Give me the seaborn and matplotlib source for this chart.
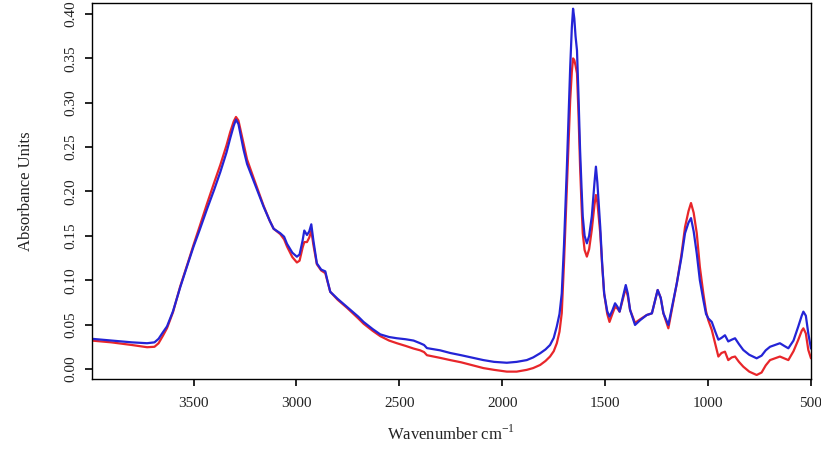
import matplotlib
matplotlib.use("Agg")
import matplotlib.pyplot as plt
import seaborn as sns
import pandas as pd
import numpy as np

wavenumber = [3995, 3900, 3800, 3726, 3690, 3670, 3650, 3629, 3600, 3565, 3530, 3500, 3470, 3435,
              3400, 3370, 3340, 3322, 3305, 3294, 3282, 3270, 3257, 3240, 3225, 3208, 3185, 3160,
              3130, 3111, 3079, 3060, 3046, 3020, 2998, 2985, 2970, 2962, 2949, 2938, 2928, 2918,
              2901, 2880, 2860, 2850, 2836, 2800, 2755, 2700, 2674, 2630, 2593, 2550, 2512, 2470,
              2431, 2399, 2380, 2366, 2302, 2253, 2200, 2150, 2092, 2040, 1978, 1930, 1881, 1850,
              1816, 1790, 1768, 1750, 1735, 1722, 1711, 1700, 1686, 1670, 1662, 1656, 1650, 1644,
              1637, 1630, 1622, 1615, 1609, 1600, 1589, 1578, 1565, 1552, 1545, 1538, 1524, 1515,
              1505, 1490, 1479, 1465, 1452, 1440, 1430, 1415, 1400, 1390, 1379, 1355, 1330, 1298,
              1273, 1260, 1245, 1230, 1217, 1193, 1175, 1152, 1130, 1112, 1095, 1083, 1070, 1055,
              1040, 1023, 1010, 999, 982, 965, 950, 935, 918, 902, 885, 869, 850, 829, 800, 764,
              740, 720, 699, 675, 651, 630, 610, 585, 562, 545, 537, 525, 513, 500]

blue_abs = [0.034, 0.032, 0.030, 0.029, 0.030, 0.034, 0.041, 0.048, 0.065, 0.092, 0.117, 0.138, 0.157, 0.180,
            0.202, 0.222, 0.244, 0.260, 0.274, 0.281, 0.276, 0.262, 0.247, 0.231, 0.222, 0.212, 0.198, 0.183,
            0.167, 0.158, 0.153, 0.149, 0.141, 0.131, 0.1265, 0.129, 0.145, 0.156, 0.151, 0.155, 0.163, 0.145,
            0.119, 0.112, 0.110, 0.100, 0.087, 0.079, 0.070, 0.059, 0.053, 0.045, 0.039, 0.036, 0.0346, 0.0335,
            0.032, 0.029, 0.027, 0.0235, 0.021, 0.018, 0.0155, 0.013, 0.010, 0.008, 0.007, 0.008, 0.010, 0.013,
            0.0177, 0.022, 0.027, 0.035, 0.048, 0.062, 0.085, 0.140, 0.228, 0.340, 0.385, 0.406, 0.395, 0.375,
            0.359, 0.310, 0.247, 0.205, 0.172, 0.150, 0.1416, 0.150, 0.172, 0.210, 0.228, 0.210, 0.160, 0.120,
            0.085, 0.065, 0.059, 0.066, 0.074, 0.070, 0.0646, 0.080, 0.0946, 0.085, 0.0665, 0.0496, 0.055, 0.0608,
            0.0627, 0.075, 0.089, 0.080, 0.0627, 0.0496, 0.070, 0.0965, 0.125, 0.153, 0.165, 0.170, 0.155, 0.130,
            0.100, 0.0777, 0.062, 0.057, 0.053, 0.042, 0.033, 0.035, 0.038, 0.031, 0.033, 0.0346, 0.028, 0.0214, 0.016, 0.012,
            0.015, 0.021, 0.025, 0.027, 0.029, 0.026, 0.0233, 0.032, 0.0477, 0.060, 0.0646, 0.060, 0.040, 0.023]

red_abs = [0.032, 0.030, 0.027, 0.0245, 0.025, 0.029, 0.037, 0.046, 0.064, 0.093, 0.118, 0.140, 0.161, 0.186,
           0.210, 0.230, 0.252, 0.267, 0.279, 0.284, 0.280, 0.268, 0.254, 0.236, 0.226, 0.215, 0.200, 0.184,
           0.167, 0.158, 0.152, 0.146, 0.138, 0.126, 0.120, 0.122, 0.137, 0.143, 0.143, 0.148, 0.156, 0.140,
           0.118, 0.111, 0.108, 0.099, 0.087, 0.078, 0.069, 0.057, 0.051, 0.043, 0.037, 0.032, 0.029, 0.026,
           0.023, 0.021, 0.019, 0.0155, 0.0125, 0.010, 0.0075, 0.0045, 0.001, -0.001, -0.003, -0.003, -0.001, 0.001,
           0.0045, 0.009, 0.014, 0.020, 0.029, 0.042, 0.063, 0.120, 0.205, 0.303, 0.335, 0.350, 0.348, 0.342,
           0.333, 0.290, 0.228, 0.185, 0.153, 0.134, 0.1266, 0.135, 0.157, 0.185, 0.196, 0.188, 0.153, 0.118,
           0.085, 0.062, 0.053, 0.062, 0.070, 0.068, 0.0646, 0.078, 0.091, 0.082, 0.0665, 0.052, 0.056, 0.0608,
           0.0627, 0.075, 0.089, 0.080, 0.0627, 0.0458, 0.068, 0.0965, 0.128, 0.160, 0.178, 0.187, 0.176, 0.153,
           0.115, 0.085, 0.065, 0.055, 0.044, 0.028, 0.014, 0.018, 0.0195, 0.010, 0.013, 0.014, 0.008, 0.0026, -0.003, -0.0068,
           -0.004, 0.004, 0.010, 0.012, 0.014, 0.012, 0.010, 0.020, 0.0327, 0.043, 0.0458, 0.040, 0.0214, 0.012]

x_ticks = [3500, 3000, 2500, 2000, 1500, 1000, 500]
y_ticks = [0.00, 0.05, 0.10, 0.15, 0.20, 0.25, 0.30, 0.35, 0.40]

df = pd.DataFrame({
    "Wavenumber": wavenumber * 2,
    "Absorbance": red_abs + blue_abs,
    "Sample": ["red"] * len(wavenumber) + ["blue"] * len(wavenumber),
})

sns.set_theme(style="ticks")
plt.rcParams["font.family"] = ["Liberation Serif", "DejaVu Serif"]
plt.rcParams["mathtext.fontset"] = "custom"
plt.rcParams["mathtext.rm"] = "Liberation Serif"

fig = plt.figure(figsize=(8.21, 4.5), dpi=100)
ax = fig.add_axes([0.1117, 0.1578, 0.9878 - 0.1117, 0.9933 - 0.1578])

sns.lineplot(data=df, x="Wavenumber", y="Absorbance", hue="Sample",
             palette={"red": "#e8262a", "blue": "#2424d6"}, hue_order=["red", "blue"],
             estimator=None, linewidth=1.6, legend=False, ax=ax)

ax.set_xlim(3995, 500)
ax.set_ylim(-0.0113, 0.4124)
ax.set_xticks(x_ticks)
ax.set_xticklabels([str(t) for t in x_ticks])
ax.set_yticks(y_ticks)
ax.set_yticklabels([f"{t:.2f}" for t in y_ticks], rotation=90, va="center")

for s in ax.spines.values():
    s.set_visible(True)
    s.set_color("black")
    s.set_linewidth(1.0)

ax.tick_params(axis="both", direction="out", length=5, width=1.2, color="black",
               labelsize=11, labelcolor="#222222")
ax.tick_params(axis="x", pad=8)
ax.tick_params(axis="y", pad=5)

ax.set_xlabel("Wavenumber cm$^{-1}$", fontsize=12, color="#222222", labelpad=10)
ax.set_ylabel("Absorbance Units", fontsize=12, color="#222222", labelpad=22)
ax.grid(False)

fig.savefig("out.png", dpi=100)
